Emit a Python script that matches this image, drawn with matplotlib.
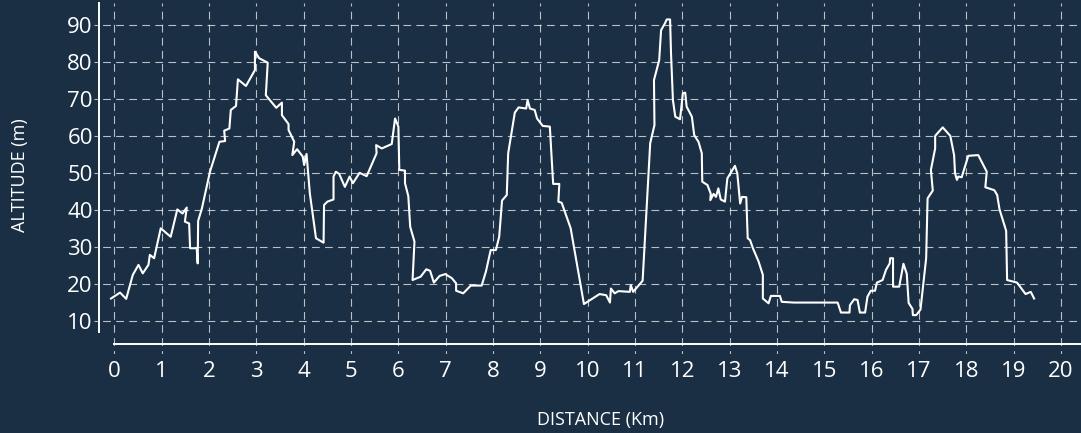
import matplotlib.pyplot as plt

# Perfil de altitud: distancia (km) y altitud (m)
distancia = [-0.07, 0.12, 0.25, 0.39, 0.51, 0.60, 0.72, 0.75, 0.84, 0.98,
             1.19, 1.33, 1.44, 1.53, 1.49, 1.58, 1.60, 1.74, 1.76, 1.77,
             1.85, 2.02, 2.22, 2.34, 2.32, 2.43, 2.46, 2.57, 2.61, 2.78,
             2.97, 2.97, 3.06, 3.24, 3.20, 3.42, 3.54, 3.54, 3.68, 3.68,
             3.80, 3.76, 3.86, 3.98, 4.01, 4.06, 4.13, 4.26, 4.42, 4.43,
             4.50, 4.63, 4.63, 4.68, 4.75, 4.87, 4.97, 5.04, 5.18, 5.33,
             5.54, 5.53, 5.65, 5.86, 5.93, 6.00, 6.02, 6.14, 6.14, 6.21,
             6.25, 6.34, 6.30, 6.47, 6.59, 6.67, 6.75, 6.87, 6.99, 7.13,
             7.22, 7.22, 7.37, 7.53, 7.76, 7.85, 7.95, 8.06, 8.13, 8.19,
             8.29, 8.32, 8.46, 8.54, 8.70, 8.73, 8.78, 8.88, 8.93, 9.05,
             9.20, 9.27, 9.40, 9.38, 9.45, 9.64, 9.92, 10.25, 10.39, 10.47,
             10.49, 10.57, 10.65, 10.89, 10.91, 10.96, 11.16, 11.32, 11.41, 11.40,
             11.51, 11.55, 11.63, 11.67, 11.74, 11.76, 11.80, 11.85, 11.95, 12.01,
             12.06, 12.09, 12.20, 12.25, 12.34, 12.41, 12.42, 12.53, 12.60, 12.59,
             12.66, 12.71, 12.76, 12.81, 12.90, 12.95, 13.11, 13.16, 13.22, 13.26,
             13.35, 13.38, 13.43, 13.49, 13.61, 13.70, 13.70, 13.82, 13.87, 14.06,
             14.10, 14.35, 15.28, 15.35, 15.53, 15.54, 15.63, 15.70, 15.75, 15.86,
             15.91, 15.98, 16.07, 16.11, 16.23, 16.30, 16.38, 16.39, 16.45, 16.45,
             16.58, 16.67, 16.74, 16.78, 16.86, 16.87, 16.94, 17.03, 17.15, 17.18,
             17.29, 17.25, 17.34, 17.34, 17.50, 17.66, 17.74, 17.76, 17.80, 17.83,
             17.90, 18.04, 18.25, 18.43, 18.40, 18.59, 18.65, 18.70, 18.84, 18.86,
             19.07, 19.25, 19.36, 19.43]
altitud = [16.0, 17.6, 15.9, 22.4, 25.1, 22.8, 25.1, 27.8, 26.9, 35.0,
           32.7, 40.1, 39.0, 40.6, 36.8, 36.3, 29.6, 29.6, 25.5, 37.0,
           40.4, 50.3, 58.4, 58.6, 61.4, 62.0, 67.0, 68.1, 75.3, 73.5,
           77.8, 82.8, 81.0, 79.8, 71.0, 67.6, 69.0, 65.6, 63.2, 61.6,
           58.4, 54.8, 56.4, 54.4, 52.1, 55.1, 44.4, 32.3, 31.1, 41.3,
           42.2, 42.8, 49.0, 50.3, 49.7, 46.2, 49.0, 47.2, 50.0, 49.1,
           55.3, 57.5, 56.6, 57.8, 64.7, 62.5, 50.8, 50.6, 47.2, 43.7,
           35.4, 31.4, 21.0, 21.9, 23.9, 23.5, 20.3, 22.1, 22.6, 21.5,
           20.1, 18.1, 17.4, 19.5, 19.5, 23.3, 29.1, 29.1, 32.7, 42.5,
           44.0, 55.3, 66.3, 67.7, 67.4, 69.7, 67.4, 67.0, 64.7, 62.7,
           62.5, 47.0, 47.0, 42.2, 41.9, 35.0, 14.5, 17.2, 16.9, 14.9,
           18.7, 17.4, 18.0, 17.8, 19.6, 17.8, 20.8, 58.0, 62.9, 75.1,
           80.5, 88.6, 90.4, 91.5, 91.5, 82.3, 69.7, 65.2, 64.5, 71.5,
           71.7, 67.9, 65.2, 60.2, 58.4, 55.3, 47.6, 46.7, 44.3, 42.6,
           44.3, 43.5, 45.8, 42.8, 42.2, 48.5, 51.9, 49.9, 41.7, 43.5,
           43.4, 32.3, 31.8, 29.6, 26.0, 22.4, 16.0, 14.7, 16.7, 16.7,
           15.1, 14.9, 14.9, 12.2, 12.2, 14.2, 15.8, 15.6, 12.2, 12.2,
           16.5, 18.1, 18.1, 20.3, 21.0, 23.7, 25.5, 26.9, 26.9, 19.2,
           19.2, 25.4, 22.7, 14.8, 13.2, 11.5, 11.5, 13.0, 26.9, 43.1,
           45.2, 50.8, 56.6, 60.0, 62.3, 60.0, 54.8, 49.9, 48.1, 49.0,
           48.8, 54.6, 54.8, 50.3, 46.1, 45.3, 44.0, 40.1, 34.3, 21.0,
           20.3, 17.2, 17.8, 16.0]

marcas_x = list(range(0, 21))
marcas_y = [10, 20, 30, 40, 50, 60, 70, 80, 90]

fondo = '#1a2e44'
plt.rcParams['font.family'] = ['Open Sans', 'DejaVu Sans']
plt.rcParams['lines.scale_dashes'] = False

W, H = 1081, 433
fig = plt.figure(figsize=(W / 100, H / 100), dpi=100, facecolor=fondo)
ax = fig.add_axes([94 / W, 1 - 353.5 / H, (1080 - 94) / W, (353.5 - 3) / H])
ax.set_facecolor(fondo)

# Linea del perfil
ax.plot(distancia, altitud, color='white', linewidth=1.5)

ax.set_xlim(-0.43, 20.40)
ax.set_ylim(1.12, 95.95)
ax.set_xticks(marcas_x)
ax.set_yticks(marcas_y)

# Rejilla discontinua
ax.set_axisbelow(True)
ax.grid(True, color='white', alpha=0.7, linewidth=0.8,
        linestyle=(3.2, (5.6, 3.8)))

# Ejes desplazados
for lado in ['top', 'right']:
    ax.spines[lado].set_visible(False)
ax.spines['left'].set_position(('data', -0.324))
ax.spines['left'].set_bounds(7.07, 95.95)
ax.spines['bottom'].set_position(('data', 3.69))
ax.spines['bottom'].set_bounds(0, 20.40)
for lado in ['left', 'bottom']:
    ax.spines[lado].set_color('white')
    ax.spines[lado].set_linewidth(1.4)

ax.tick_params(length=0, labelcolor='white', labelsize=16)
ax.tick_params(axis='x', pad=12.5)
ax.tick_params(axis='y', pad=4.5)

fig.text(601 / W, 1 - 419.5 / H, 'DISTANCE (Km)', color='white', fontsize=13,
         ha='center', va='center')
fig.text(20 / W, 1 - 175 / H, 'ALTITUDE (m)', color='white', fontsize=13,
         ha='center', va='center', rotation=90)

fig.savefig('out.png', dpi=100, facecolor=fondo)
